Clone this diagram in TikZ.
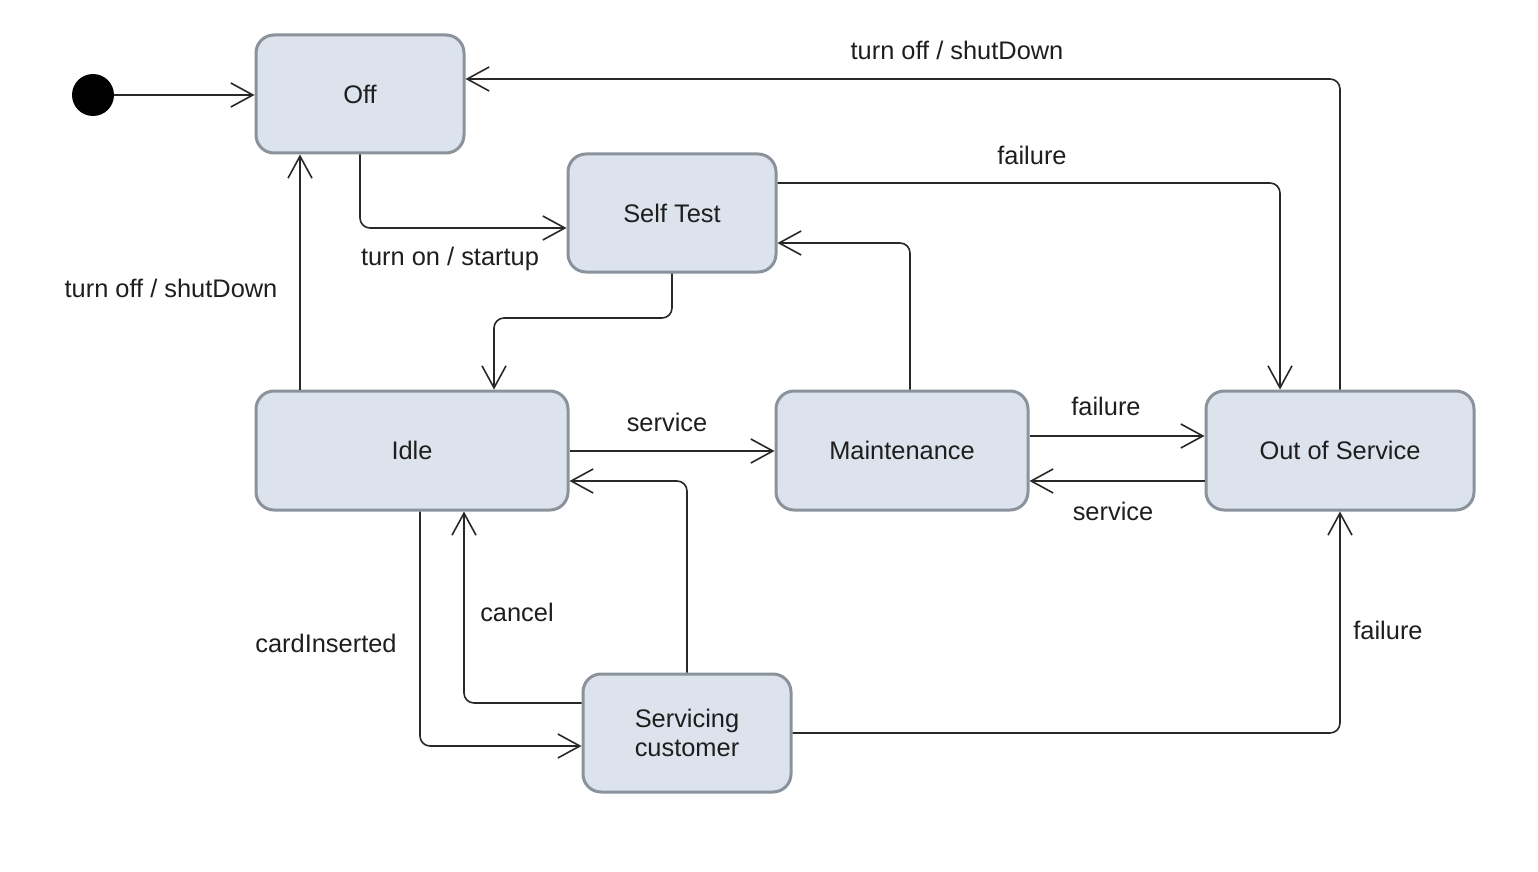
\documentclass[tikz,border=0pt]{standalone}
\usepackage{fontspec}
\setmainfont{Liberation Sans}
\usetikzlibrary{arrows.meta}
\definecolor{boxfill}{RGB}{220,227,237}
\definecolor{boxline}{RGB}{138,146,156}
\definecolor{linec}{RGB}{40,40,40}
\definecolor{txt}{RGB}{30,30,30}
\begin{document}
\begin{tikzpicture}[x=0.5pt,y=-0.5pt,
  state/.style={draw=boxline, fill=boxfill, line width=1.5pt, rounded corners=9pt,
    font=\fontsize{12.7}{14.5}\selectfont, text=txt, align=center, inner sep=0pt},
  conn/.style={draw=linec, line width=0.8pt, rounded corners=5pt,
    -{Straight Barb[length=11pt,width=12pt,line width=0.8pt]}},
  lbl/.style={font=\fontsize{12.7}{14.5}\selectfont, text=txt, inner sep=0pt}]
\useasboundingbox (0,0) rectangle (1538,872);

\node[circle, fill=black, minimum size=21pt, inner sep=0pt] (init) at (93,95) {};
\node[state, minimum width=104pt, minimum height=59pt] (off) at (360,94) {Off};
\node[state, minimum width=104pt, minimum height=59pt] (st) at (672,213) {Self Test};
\node[state, minimum width=156pt, minimum height=59.5pt] (idle) at (412,450.5) {Idle};
\node[state, minimum width=126pt, minimum height=59.5pt] (mt) at (902,450.5) {Maintenance};
\node[state, minimum width=134pt, minimum height=59.5pt] (oos) at (1340,450.5) {Out of Service};
\node[state, minimum width=104pt, minimum height=59pt] (sc) at (687,733) {Servicing\\customer};

% initial
\draw[conn] (init.east) -- (off.west |- init.east);
% OoS -> Off
\draw[conn] (oos.north) -- (1340,79) -- (off.east |- 0,79);
\node[lbl] (l1) at (957,50) {turn off / shutDown};
% Off -> Self Test
\draw[conn] (off.south) -- (360,228) -- (st.west |- 0,228);
\node[lbl] (l2) at (450,259) {turn on / startup};
% Self Test -> OoS
\draw[conn] (st.east |- 0,183) -- (1280,183) -- (oos.north -| 1280,0);
\node[lbl] (l3) at (1032,155) {failure};
% Maintenance -> Self Test
\draw[conn] (mt.north -| 910,0) -- (910,243) -- (st.east |- 0,243);
% Self Test -> Idle
\draw[conn] (st.south) -- (672,318) -- (494,318) -- (idle.north -| 494,0);
% Idle -> Off
\draw[conn] (idle.north -| 300,0) -- (off.south -| 300,0);
\node[lbl] (l4) at (171,288) {turn off / shutDown};
% Idle -> Maintenance
\draw[conn] (idle.east |- 0,451) -- (mt.west |- 0,451);
\node[lbl] (l5) at (667,422) {service};
% Maintenance -> OoS
\draw[conn] (mt.east |- 0,436) -- (oos.west |- 0,436);
\node[lbl] (l6) at (1106,406) {failure};
% OoS -> Maintenance
\draw[conn] (oos.west |- 0,481) -- (mt.east |- 0,481);
\node[lbl] (l7) at (1113,511) {service};
% Servicing -> Idle
\draw[conn] (sc.north) -- (687,481) -- (idle.east |- 0,481);
% Servicing -> Idle (cancel)
\draw[conn] (sc.west |- 0,703) -- (464,703) -- (idle.south -| 464,0);
\node[lbl] (l8) at (517,612) {cancel};
% Idle -> Servicing
\draw[conn] (idle.south -| 420,0) -- (420,746) -- (sc.west |- 0,746);
\node[lbl] (l9) at (326,643) {cardInserted};
% Servicing -> OoS
\draw[conn] (sc.east) -- (1340,733) -- (oos.south);
\node[lbl] (l10) at (1388,630) {failure};
\end{tikzpicture}
\end{document}
